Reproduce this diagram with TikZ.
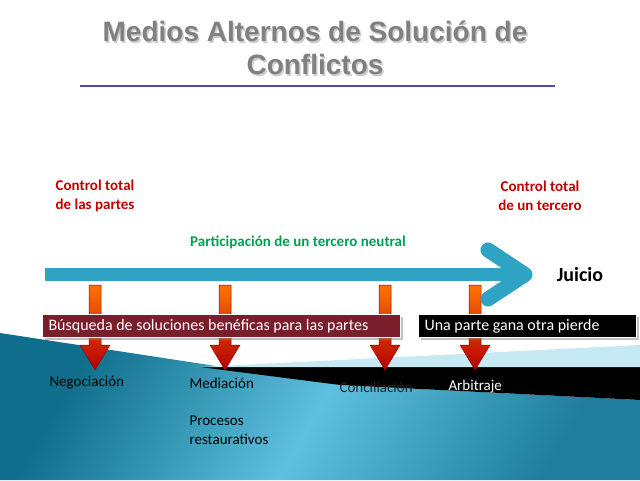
\documentclass[tikz,border=0pt]{standalone}
\usepackage{fontspec}
\setmainfont{Carlito}
\newfontfamily\titlefont{Liberation Sans}
\usetikzlibrary{shadows}
\definecolor{arrblue}{HTML}{2FA3C4}
\definecolor{ctrlred}{HTML}{C00000}
\definecolor{partgreen}{HTML}{00A050}
\definecolor{boxred}{HTML}{7A1E2C}
\definecolor{tealdark}{HTML}{0E6E8C}
\definecolor{teallight}{HTML}{5EC0DE}
\tikzset{
  ctrl/.style={text=ctrlred,font=\bfseries\fontsize{15}{19}\selectfont,align=center},
  lbl/.style={font=\fontsize{15}{19}\selectfont,anchor=west},
  orarrow/.style={draw=red!60!black,line width=0.5pt,top color=orange!90!red,bottom color=red!70!black},
  band/.style={fill=#1,draw=white,line width=1pt,font=\fontsize{16}{19}\selectfont,text=white,anchor=west,minimum height=23pt,inner xsep=6pt,drop shadow}
}
\begin{document}
\begin{tikzpicture}[x=1pt,y=-1pt]
\useasboundingbox (0,0) rectangle (640,480);
\fill[white] (0,0) rectangle (640,480);
% bottom background
\shade[left color=tealdark,right color=tealdark!80!teallight,middle color=teallight,shading angle=60] (0,333) -- (340,385) -- (640,400) -- (640,480) -- (0,480) -- cycle;
\fill[black] (200,367) -- (640,367) -- (640,400) -- (340,385) -- cycle;
\fill[teallight!35] (200,367) -- (640,345) -- (640,367) -- cycle;
% title
\node[font=\titlefont\bfseries\fontsize{28}{33}\selectfont,text=gray!40,align=center] at (316.5,49.5) {Medios Alternos de Solución de\\Conflictos};
\node[font=\titlefont\bfseries\fontsize{28}{33}\selectfont,text=gray,align=center] (title) at (315,48) {Medios Alternos de Solución de\\Conflictos};
\draw[gray!60!blue,line width=1.2pt] (80,86) -- (555,86);
\node[ctrl] (ca) at (95,196) {Control total\\de las partes};
\node[ctrl] (cb) at (540,196) {Control total\\de un tercero};
\node[text=partgreen,font=\bfseries\fontsize{15}{18}\selectfont] (part) at (298,242) {Participación de un tercero neutral};
% orange arrows
\foreach \x/\n in {95/a,225/b,385/c,475/d}{
  \path[orarrow] (\x-6,285) -- (\x+6,285) -- (\x+6,345) -- (\x+15,345) -- (\x,370) -- (\x-15,345) -- (\x-6,345) -- cycle;
}
% big arrow
\fill[arrblue] (45,268) rectangle (518,281);
\draw[arrblue,line width=15pt,line cap=round,line join=round] (488,250) -- (525,274.5) -- (488,299);
\node[font=\bfseries\fontsize{20}{24}\selectfont] (juicio) at (580,275) {Juicio};
% boxes
\node[band=boxred] (busq) at (42,326) {\makebox[346pt][l]{Búsqueda de soluciones benéficas para las partes}};
\node[band=black] (una) at (418,326) {\makebox[206pt][l]{Una parte gana otra pierde}};
% labels
\node[lbl] (neg) at (46,383) {Negociación};
\node[lbl] (med) at (186,383) {Mediación};
\node[lbl,align=left] (proc) at (186,430) {Procesos\\restaurativos};
\node[lbl,text=black!85] (conc) at (336,387) {Conciliación};
\node[lbl,text=white] (arb) at (445,387) {Arbitraje};
\end{tikzpicture}
\end{document}
